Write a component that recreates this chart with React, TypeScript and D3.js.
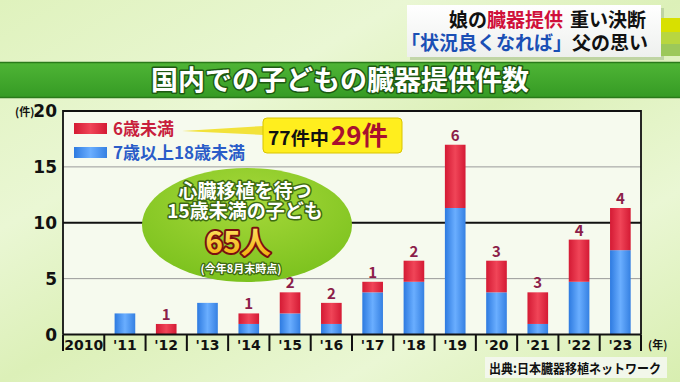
import React from "react";
import * as d3 from "d3";

const years = ["2010", "'11", "'12", "'13", "'14", "'15", "'16", "'17", "'18", "'19", "'20", "'21", "'22", "'23"];
const under6 = [0, 0, 1, 0, 1, 2, 2, 1, 2, 6, 3, 3, 4, 4];
const age7to17 = [0, 2, 0, 3, 1, 2, 1, 4, 5, 12, 4, 1, 5, 8];
const yTicks = [0, 5, 10, 15, 20];

const W = 680;
const H = 382;
const plotL = 63;
const plotR = 641;
const plotT = 111;
const plotB = 334.5;
const FONT = "'Noto Sans CJK JP', 'Noto Sans', sans-serif";

export default function App() {
  const x = d3.scaleBand<string>().domain(years).range([plotL, plotR]).paddingInner(0.5).paddingOuter(0.25);
  const yAxis = d3.scaleLinear().domain([0, 20]).range([plotB, plotT]);
  const yBar = d3.scaleLinear().domain([0, 21.2]).range([plotB, plotT]);
  const step = (plotR - plotL) / years.length;

  const rows = years.map((y, i) => ({ year: y, blue: age7to17[i], red: under6[i] }));
  const stack = d3.stack<any>().keys(["blue", "red"])(rows as any);

  return (
    <svg width={W} height={H} style={{ position: "absolute", left: 0, top: 0, fontFamily: FONT }}>
      <defs>
        <linearGradient id="bg" x1="0" y1="0" x2="1" y2="1">
          <stop offset="0" stopColor="#dff2bd" />
          <stop offset="0.3" stopColor="#eaf7d4" />
          <stop offset="0.5" stopColor="#dcf0b8" />
          <stop offset="0.75" stopColor="#eaf7d4" />
          <stop offset="1" stopColor="#d8eeb0" />
        </linearGradient>
        <linearGradient id="redG" x1="0" y1="0" x2="1" y2="0">
          <stop offset="0" stopColor="#d41a34" />
          <stop offset="0.5" stopColor="#f04558" />
          <stop offset="1" stopColor="#d41a34" />
        </linearGradient>
        <linearGradient id="blueG" x1="0" y1="0" x2="1" y2="0">
          <stop offset="0" stopColor="#2d7ae0" />
          <stop offset="0.5" stopColor="#6aaeff" />
          <stop offset="1" stopColor="#3580e2" />
        </linearGradient>
        <linearGradient id="band" x1="0" y1="0" x2="0" y2="1">
          <stop offset="0" stopColor="#4fb536" />
          <stop offset="1" stopColor="#359a24" />
        </linearGradient>
        <radialGradient id="ell" cx="0.5" cy="0.3" r="0.7">
          <stop offset="0" stopColor="#a6d83a" />
          <stop offset="1" stopColor="#7cc21e" />
        </radialGradient>
        <linearGradient id="gold" x1="0" y1="0" x2="0" y2="1">
          <stop offset="0" stopColor="#fff07a" />
          <stop offset="1" stopColor="#f0a800" />
        </linearGradient>
        <linearGradient id="box" x1="0" y1="0" x2="0" y2="1">
          <stop offset="0" stopColor="#ffffff" />
          <stop offset="1" stopColor="#eef0ee" />
        </linearGradient>
      </defs>

      <rect x={0} y={0} width={W} height={H} fill="url(#bg)" />

      {/* headline box */}
      <rect x={410} y={8} width={254} height={52} fill="#9fb88a" opacity={0.5} />
      <rect x={407} y={5} width={254} height={52} fill="url(#box)" />
      <rect x={661} y={18} width={19} height={14} fill="#d8e000" />
      <rect x={661} y={32} width={19} height={12} fill="#b8d640" />
      <rect x={661} y={44} width={19} height={12} fill="#9cc85a" />
      <g fontSize={19} fontWeight={700} textAnchor="end">
        <text x={646} y={27} fill="#111">重い決断</text>
        <text x={563} y={27} fill="#d0103a">臓器提供</text>
        <text x={487} y={27} fill="#111">娘の</text>
        <text x={648} y={50} fill="#111">父の思い</text>
        <text x={572} y={50} fill="#1a4fb5">「状況良くなれば」</text>
      </g>

      {/* title band */}
      <rect x={0} y={62} width={W} height={36} fill="url(#band)" />
      <line x1={0} x2={W} y1={62.5} y2={62.5} stroke="#2a7a1a" strokeWidth={1.5} />
      <line x1={0} x2={W} y1={97.5} y2={97.5} stroke="#2a7a1a" strokeWidth={1.5} />
      <text x={340} y={90} textAnchor="middle" fontSize={27} fontWeight={700} fill="#fff" stroke="#1d5a12" strokeWidth={3} paintOrder="stroke" strokeLinejoin="round">
        国内での子どもの臓器提供件数
      </text>

      {/* plot area */}
      <rect x={plotL} y={plotT} width={plotR - plotL} height={plotB - plotT} fill="#f6faee" />
      {yTicks.filter((t) => t === 5 || t === 15).map((t) => (
        <line key={t} x1={plotL} x2={plotR} y1={yAxis(t)} y2={yAxis(t)} stroke="#9a9a9a" strokeWidth={1} />
      ))}
      <line x1={plotL} x2={plotR} y1={yAxis(10)} y2={yAxis(10)} stroke="#111" strokeWidth={2.2} />

      {/* bars */}
      {stack.map((layer) => (
        <g key={layer.key} fill={layer.key === "red" ? "url(#redG)" : "url(#blueG)"}>
          {layer.map((d, i) =>
            d[1] - d[0] > 0 ? (
              <rect key={i} x={x(years[i])!} width={x.bandwidth()} y={yBar(d[1])} height={yBar(d[0]) - yBar(d[1])} />
            ) : null
          )}
        </g>
      ))}
      {rows.map((r, i) =>
        r.red > 0 ? (
          <text key={i} x={x(r.year)! + x.bandwidth() / 2} y={yBar(r.red + r.blue) - 4} textAnchor="middle" fontSize={15} fontWeight={700} fill="#8c1e4a">
            {r.red}
          </text>
        ) : null
      )}

      {/* plot frame */}
      <path d={`M${plotL},${plotB} V${plotT} H${plotR} V${plotB}`} fill="none" stroke="#111" strokeWidth={1.8} />
      <line x1={plotL} x2={plotR} y1={plotB} y2={plotB} stroke="#111" strokeWidth={2.2} />

      {/* y labels */}
      {yTicks.map((t) => (
        <text key={t} x={57} y={yAxis(t) + 6} textAnchor="end" fontSize={17} fontWeight={700} fill="#111" fontFamily="'DejaVu Sans', sans-serif">
          {t}
        </text>
      ))}
      <text x={15} y={116} fontSize={11} fontWeight={700} fill="#111">(件)</text>

      {/* x category row */}
      {d3.range(years.length + 1).map((i) => (
        <line key={i} x1={plotL + i * step} x2={plotL + i * step} y1={plotB} y2={351} stroke="#111" strokeWidth={2} />
      ))}
      {years.map((y, i) => (
        <text key={y} x={plotL + (i + 0.5) * step} y={350} textAnchor="middle" fontSize={14} fontWeight={700} fill="#111" fontFamily="'DejaVu Sans', sans-serif">
          {y}
        </text>
      ))}
      <text x={648} y={349} fontSize={11} fontWeight={700} fill="#111">(年)</text>

      {/* legend */}
      <rect x={74} y={123} width={33} height={11} fill="url(#redG)" />
      <text x={113} y={135} fontSize={17} fontWeight={700} fill="#c8203c">6歳未満</text>
      <rect x={74} y={147} width={33} height={11} fill="url(#blueG)" />
      <text x={113} y={159} fontSize={17} fontWeight={700} fill="#2a5cc8">7歳以上18歳未満</text>

      {/* callout */}
      <polygon points="182,131 264,126 264,135" fill="#f2e23a" />
      <rect x={263} y={118} width={139} height={35} rx={4} fill="#ffee1e" stroke="#d8c400" strokeWidth={1} />
      <text x={268} y={145} fontSize={18} fontWeight={700} fill="#111" textLength={61} lengthAdjust="spacingAndGlyphs">77件中</text>
      <text x={331} y={145} fontSize={26} fontWeight={700} fill="#a8102e">29件</text>

      {/* ellipse annotation */}
      <ellipse cx={247} cy={225} rx={105} ry={57} fill="url(#ell)" />
      <g fontWeight={700} textAnchor="middle" stroke="#3d6a12" strokeWidth={3} paintOrder="stroke" strokeLinejoin="round" fill="#fff">
        <text x={245} y={198} fontSize={19}>心臓移植を待つ</text>
        <text x={245} y={218} fontSize={19}>15歳未満の子ども</text>
        <text x={238} y={253} fontSize={30} fill="url(#gold)" stroke="#7a0f10" strokeWidth={4}>65人</text>
        <text x={241} y={273} fontSize={11} strokeWidth={2.5}>(今年8月末時点)</text>
      </g>

      {/* source */}
      <rect x={485} y={357} width={182} height={21} fill="#f4f7f0" opacity={0.9} />
      <text x={489} y={373} fontSize={13} fontWeight={700} fill="#111" textLength={172} lengthAdjust="spacingAndGlyphs">出典:日本臓器移植ネットワーク</text>
    </svg>
  );
}
